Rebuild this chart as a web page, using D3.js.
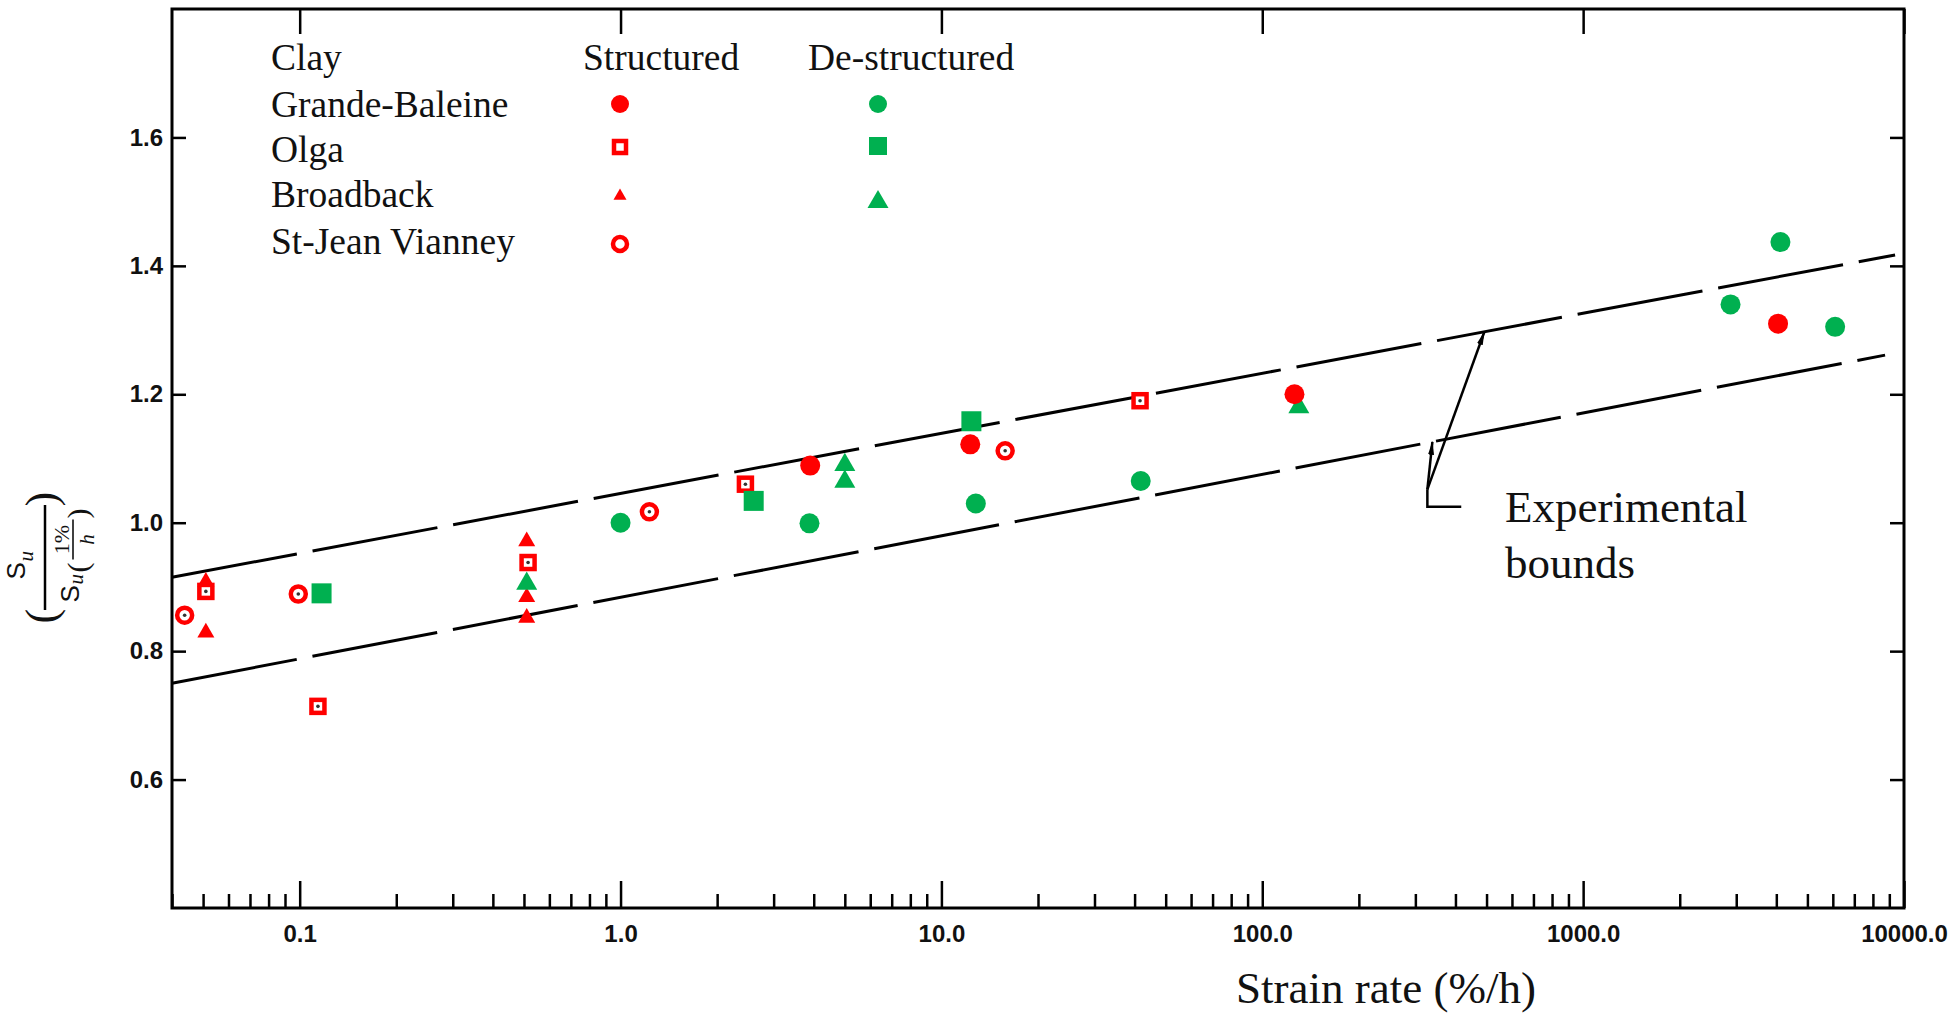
<!DOCTYPE html>
<html><head><meta charset="utf-8">
<script src="https://cdn.jsdelivr.net/npm/d3@7"></script>
<style>html,body{margin:0;padding:0;background:#fff;overflow:hidden}</style>
</head><body>
<svg id="chart" width="1959" height="1020"></svg>
<script>
// ---------------- data ----------------
const xDomain = [0.04, 10000];
const yDomain = [0.4, 1.8];
const xTickValues = [0.1, 1, 10, 100, 1000, 10000];
const xTickLabels = ["0.1", "1.0", "10.0", "100.0", "1000.0", "10000.0"];
const yTickValues = [0.6, 0.8, 1.0, 1.2, 1.4, 1.6];
const yTickLabels = ["0.6", "0.8", "1.0", "1.2", "1.4", "1.6"];

const clays = ["Grande-Baleine", "Olga", "Broadback", "St-Jean Vianney"];
const legendHeaders = ["Clay", "Structured", "De-structured"];
const xTitle = "Strain rate (%/h)";
const boundsLabel = ["Experimental", "bounds"];

// Structured (red)
const gbStructX = [3.9, 12.3, 126, 4050];
const gbStructY = [1.089, 1.122, 1.200, 1.310];
const olgaStructX = [0.051, 0.114, 0.515, 2.45, 41.6];
const olgaStructY = [0.893, 0.714, 0.938, 1.060, 1.190];
const bbStructX = [0.051, 0.051, 0.51, 0.51, 0.51];
const bbStructY = [0.908, 0.829, 0.971, 0.884, 0.852];
const sjvStructX = [0.0438, 0.099, 1.23, 15.8];
const sjvStructY = [0.856, 0.889, 1.017, 1.112];

// De-structured (green)
const gbDestX = [1.0, 3.88, 12.8, 41.8, 2880, 4120, 6100];
const gbDestY = [1.000, 0.999, 1.030, 1.065, 1.340, 1.437, 1.305];
const olgaDestX = [0.117, 2.6, 12.4];
const olgaDestY = [0.890, 1.034, 1.158];
const bbDestX = [0.51, 5.0, 5.0, 130];
const bbDestY = [0.905, 1.090, 1.064, 1.180];

// Experimental bounds
const upperBoundX = [0.04, 9380];
const upperBoundY = [0.915, 1.417];
const lowerBoundX = [0.04, 8730];
const lowerBoundY = [0.750, 1.261];

// annotation leader (data coords): upper tip, lower tip, joint, corner, end
const leaderX = [492, 339, 327, 327, 417];
const leaderY = [1.297, 1.126, 1.052, 1.025, 1.025];

// ---------------- drawing ----------------
const RED = "#ff0000", GREEN = "#00b050";
const mLeft = 172, mRight = 1904, mTop = 9, mBottom = 908;
const x = d3.scaleLog().domain(xDomain).range([mLeft, mRight]);
const y = d3.scaleLinear().domain(yDomain).range([mBottom, mTop]);
const svg = d3.select("#chart");

const zip = (xs, ys) => xs.map((v, i) => ({x: v, y: ys[i]}));

// axes
const tickFont = g => g.selectAll("text")
  .style("font-family", "'Liberation Sans', Arial, sans-serif")
  .style("font-weight", "bold").style("font-size", "24px").attr("fill", "#111");
const cleanAxis = g => { g.select(".domain").remove(); g.selectAll("line").attr("stroke", "#000").attr("stroke-width", 2.5); };

const minorX = x.ticks().filter(v => !xTickValues.some(t => Math.abs(Math.log10(v) - Math.log10(t)) < 1e-6));
svg.append("g").attr("transform", `translate(0,${mBottom})`)
  .call(d3.axisBottom(x).tickValues(minorX).tickSize(-14).tickFormat(""))
  .call(cleanAxis);
svg.append("g").attr("transform", `translate(0,${mBottom})`)
  .call(d3.axisBottom(x).tickValues(xTickValues).tickSize(-27).tickPadding(17)
    .tickFormat((d, i) => xTickLabels[i]))
  .call(cleanAxis).call(tickFont);
svg.append("g").attr("transform", `translate(0,${mTop})`)
  .call(d3.axisTop(x).tickValues(xTickValues).tickSize(-25).tickFormat(""))
  .call(cleanAxis);
svg.append("g").attr("transform", `translate(${mLeft},0)`)
  .call(d3.axisLeft(y).tickValues(yTickValues).tickSize(-14).tickPadding(9)
    .tickFormat((d, i) => yTickLabels[i]))
  .call(cleanAxis).call(tickFont);
svg.append("g").attr("transform", `translate(${mRight},0)`)
  .call(d3.axisRight(y).tickValues(yTickValues).tickSize(-14).tickFormat(""))
  .call(cleanAxis);

// frame
svg.append("rect").attr("x", mLeft).attr("y", mTop).attr("width", mRight - mLeft).attr("height", mBottom - mTop)
  .attr("fill", "none").attr("stroke", "#000").attr("stroke-width", 3);

// bounds
const line = d3.line().x(d => x(d.x)).y(d => y(d.y));
[zip(upperBoundX, upperBoundY), zip(lowerBoundX, lowerBoundY)].forEach(pts => {
  svg.append("path").attr("d", line(pts)).attr("fill", "none").attr("stroke", "#000")
    .attr("stroke-width", 3).attr("stroke-dasharray", "127,16");
});

// leader lines with arrowheads
svg.append("defs").append("marker").attr("id", "arr").attr("viewBox", "0 0 14 8")
  .attr("refX", 13).attr("refY", 4).attr("markerWidth", 14).attr("markerHeight", 8)
  .attr("markerUnits", "userSpaceOnUse").attr("orient", "auto")
  .append("path").attr("d", "M0,1 L14,4 L0,7 Z").attr("fill", "#000");
const L = zip(leaderX, leaderY);
svg.append("path").attr("d", line([L[2], L[0]])).attr("stroke", "#000").attr("stroke-width", 2.5)
  .attr("fill", "none").attr("marker-end", "url(#arr)");
svg.append("path").attr("d", line([L[2], L[1]])).attr("stroke", "#000").attr("stroke-width", 2.5)
  .attr("fill", "none").attr("marker-end", "url(#arr)");
svg.append("path").attr("d", line([L[2], L[3], L[4]])).attr("stroke", "#000").attr("stroke-width", 2.5)
  .attr("fill", "none");

const serif = "'Liberation Serif', 'Times New Roman', serif";
svg.append("text").attr("x", 1505).attr("y", 522).style("font-family", serif).style("font-size", "45px").attr("fill", "#111").text(boundsLabel[0]);
svg.append("text").attr("x", 1505).attr("y", 578).style("font-family", serif).style("font-size", "45px").attr("fill", "#111").text(boundsLabel[1]);

// marker drawing
function marker(g, shape, color, size, open, dot) {
  if (shape === "circle") {
    g.append("circle").attr("r", size).attr("fill", open ? "#fff" : color)
      .attr("stroke", open ? color : "none").attr("stroke-width", open ? 4.5 : 0);
  } else if (shape === "square") {
    g.append("rect").attr("x", -size / 2).attr("y", -size / 2).attr("width", size).attr("height", size)
      .attr("fill", open ? "#fff" : color).attr("stroke", open ? color : "none").attr("stroke-width", open ? 4.5 : 0);
  } else {
    const a = size * size * Math.sqrt(3) / 4;
    g.append("path").attr("d", d3.symbol(d3.symbolTriangle).size(a)()).attr("fill", color);
  }
  if (dot) g.append("circle").attr("r", 1.8).attr("fill", "#333");
}
function series(xs, ys, shape, color, size, open) {
  zip(xs, ys).forEach(p => {
    const g = svg.append("g").attr("transform", `translate(${x(p.x)},${y(p.y)})`);
    marker(g, shape, color, size, open, open);
  });
}
series(bbStructX, bbStructY, "triangle", RED, 17, false);
series(olgaStructX, olgaStructY, "square", RED, 13, true);
series(sjvStructX, sjvStructY, "circle", RED, 7.5, true);
series(gbDestX, gbDestY, "circle", GREEN, 10, false);
series(olgaDestX, olgaDestY, "square", GREEN, 20, false);
series(bbDestX, bbDestY, "triangle", GREEN, 21, false);
series(gbStructX, gbStructY, "circle", RED, 10, false);

// legend
const lg = svg.append("g").style("font-family", serif).style("font-size", "37.5px").attr("fill", "#111");
lg.append("text").attr("x", 271).attr("y", 70).text(legendHeaders[0]);
lg.append("text").attr("x", 583).attr("y", 70).text(legendHeaders[1]);
lg.append("text").attr("x", 808).attr("y", 70).text(legendHeaders[2]);
const rowBase = [117, 162, 207, 254];
const rowMid = [104, 147, 196, 244];
clays.forEach((c, i) => lg.append("text").attr("x", 271).attr("y", rowBase[i]).text(c));
const structSym = [["circle", 9, false], ["square", 12, true], ["triangle", 13, false], ["circle", 7, true]];
const destSym = [["circle", 9], ["square", 18], ["triangle", 21]];
structSym.forEach((s, i) => {
  const g = svg.append("g").attr("transform", `translate(620,${rowMid[i]})`);
  marker(g, s[0], RED, s[1], s[2], false);
});
const destMid = [104, 146, 202];
destSym.forEach((s, i) => {
  const g = svg.append("g").attr("transform", `translate(878,${destMid[i]})`);
  marker(g, s[0], GREEN, s[1], false, false);
});

// x axis title
svg.append("text").attr("x", 1386).attr("y", 1003).attr("text-anchor", "middle")
  .style("font-family", serif).style("font-size", "45px").attr("fill", "#111").text(xTitle);

// y axis title: ( S_u / S_u(1%/h) ) rotated
const yl = svg.append("g").attr("transform", "translate(45,557.5) rotate(-90)").attr("fill", "#111");
const sans = "'Liberation Sans', Arial, sans-serif";
const ital = t => t.style("font-family", serif).style("font-style", "italic");
yl.append("line").attr("x1", -52.5).attr("x2", 52.5).attr("stroke", "#000").attr("stroke-width", 2.5);
// numerator S_u
yl.append("text").attr("x", -22).attr("y", -20).style("font-family", sans).style("font-size", "26px").text("S");
yl.append("text").attr("x", -4).attr("y", -12).call(ital).style("font-size", "21px").text("u");
// denominator S_u(1%/h)
yl.append("text").attr("x", -45).attr("y", 34).style("font-family", sans).style("font-size", "26px").text("S");
yl.append("text").attr("x", -27).attr("y", 38).call(ital).style("font-size", "21px").text("u");
yl.append("text").attr("x", -15).attr("y", 43).style("font-family", serif).style("font-size", "30px").text("(");
yl.append("line").attr("x1", -2).attr("x2", 38).attr("y1", 28).attr("y2", 28).attr("stroke", "#000").attr("stroke-width", 1.5);
yl.append("text").attr("x", 18).attr("y", 24).attr("text-anchor", "middle").style("font-family", serif).style("font-size", "22px").text("1%");
yl.append("text").attr("x", 18).attr("y", 49).attr("text-anchor", "middle").call(ital).style("font-size", "21px").text("h");
yl.append("text").attr("x", 39).attr("y", 43).style("font-family", serif).style("font-size", "30px").text(")");
// outer parentheses
yl.append("text").attr("x", -66).attr("y", 11).style("font-family", serif).style("font-size", "44px").text("(");
yl.append("text").attr("x", 51).attr("y", 11).style("font-family", serif).style("font-size", "44px").text(")");
</script>
</body></html>
